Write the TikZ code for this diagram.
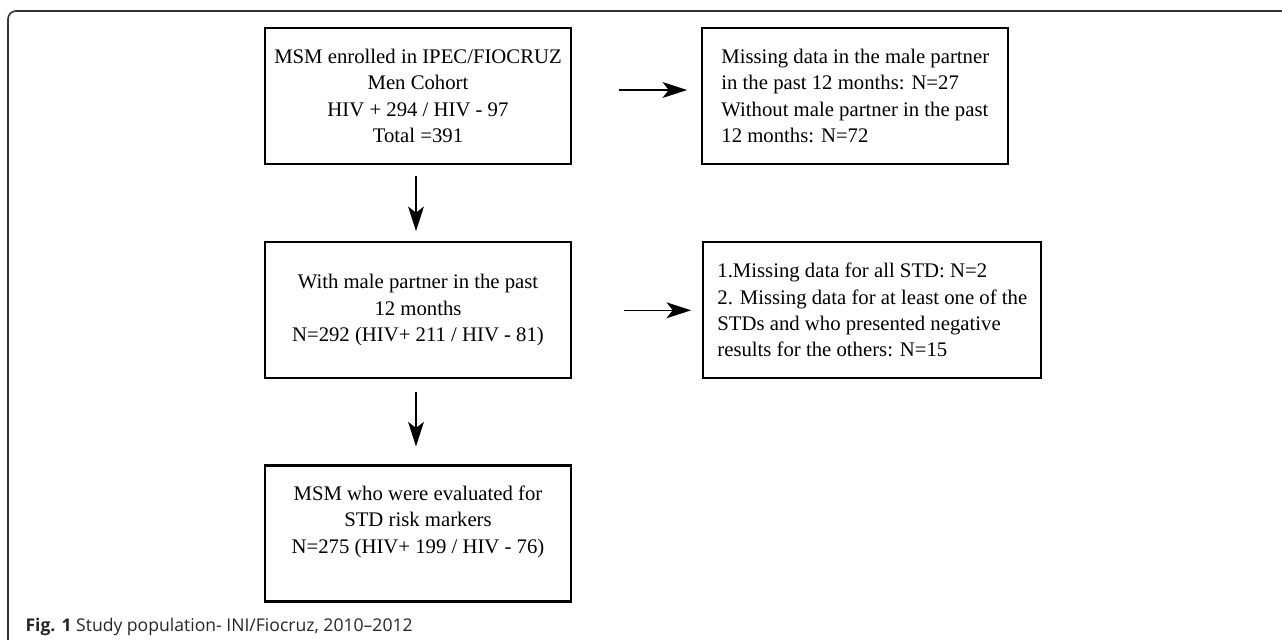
\documentclass[tikz,border=0pt]{standalone}
\usepackage{fontspec}
\setmainfont{Liberation Serif}
\newfontfamily\capfont{Open Sans}
\usepackage{tikz}
\usetikzlibrary{positioning,arrows.meta}

\begin{document}
\begin{tikzpicture}[->,>={Stealth[length=14pt,width=9pt,inset=3.5pt]},semithick,node distance=1.52cm and 2.58cm,
  box/.style={draw,line width=1.3pt,minimum width=6.12cm,minimum height=2.72cm,inner sep=0pt,
    font=\fontsize{11.8}{15}\selectfont,align=center},
  frame/.style={-,line width=0.9pt,black!80,rounded corners=0.16cm}]
\useasboundingbox (0,0) rectangle (25.64,-12.78);
\draw[frame] (0.16,-13) -- (0.16,-0.22) -- (26,-0.22);

\node[box] (n1) at (8.36,-1.92) {MSM enrolled in IPEC/FIOCRUZ\\Men Cohort\\HIV + 294 / HIV - 97\\Total =391};
\node[box,align=left] (n2) [right=of n1] {Missing data in the male partner\\in the past 12 months: N=27\\Without male partner in the past\\12 months: N=72};
\node[box] (n3) [below=of n1] {With male partner in the past\\12 months\\N=292 (HIV+ 211 / HIV - 81)};
\node[box,align=left,minimum width=6.76cm] (n4) [right=2.6cm of n3] {1.Missing data for all STD: N=2\\2. Missing data for at least one of the\\STDs and who presented negative\\results for the others: N=15};
\node[box,text depth=16pt] (n5) [below=1.7cm of n3] {MSM who were evaluated for\\STD risk markers\\N=275 (HIV+ 199 / HIV - 76)};

\path[->] ([yshift=0.12cm]n1.east) edge[shorten <=0.94cm,shorten >=0.28cm] ([yshift=0.12cm]n2.west);
\path[->] (n3.east) edge[shorten <=1.04cm,shorten >=0.22cm] (n4.west);
\path[->] ([xshift=-0.04cm]n1.south) edge[shorten <=0.22cm,shorten >=0.2cm] ([xshift=-0.04cm]n3.north);
\path[->] ([xshift=-0.04cm]n3.south) edge[shorten <=0.26cm,shorten >=0.36cm] ([xshift=-0.04cm]n5.north);

\node[anchor=base west,inner sep=0pt,text=black!85,font=\capfont\fontsize{10}{12}\selectfont] (cap) at (0.5,-12.62) {\textbf{Fig. 1} Study population- INI/Fiocruz, 2010–2012};
\end{tikzpicture}
\end{document}
